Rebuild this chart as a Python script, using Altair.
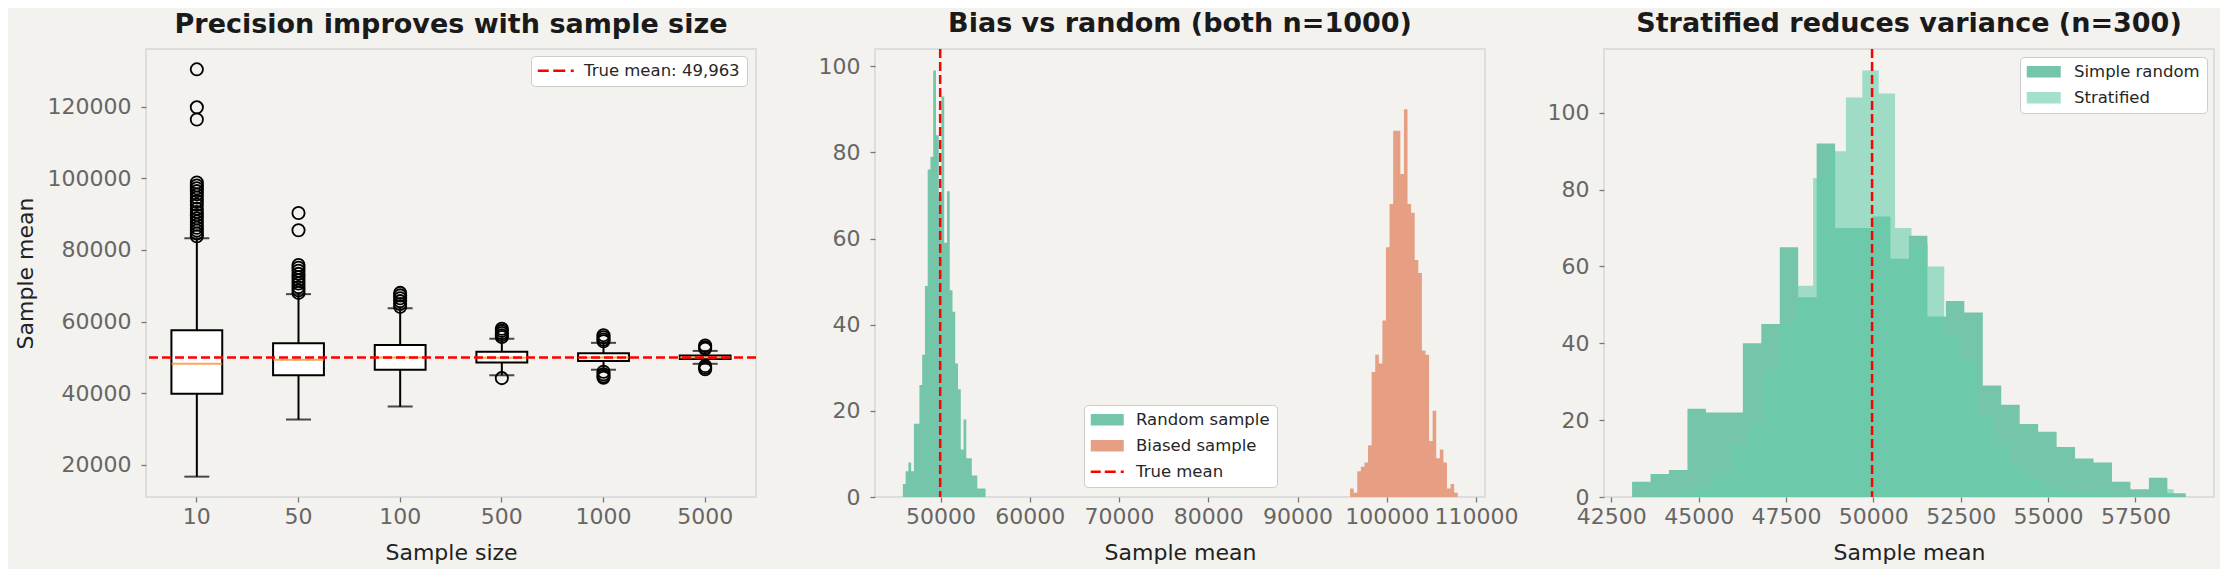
import altair as alt
import pandas as pd

FONT = "DejaVu Sans"
BG = "#f3f2ee"

# panel 1: box summaries of sample means
SIZES = ["10", "50", "100", "500", "1000", "5000"]
WHISK_LO = [16700, 32650, 36250, 45000, 46550, 48200]
Q1 = [39850, 45000, 46550, 48600, 49000, 49550]
MEDIAN = [48200, 49300, 49950, 49900, 49950, 49950]
Q3 = [57550, 53950, 53450, 51600, 51150, 50550]
WHISK_HI = [83250, 67650, 63700, 55200, 54050, 51800]
OUTLIERS = {
    "10": [130400, 119800, 116400, 98800, 98000, 97200, 96400, 95500, 94600, 93600,
           92600, 91500, 90600, 89700, 88800, 87900, 87000, 86200, 85400, 84600, 83800],
    "50": [90300, 85500, 75800, 75000, 74200, 73300, 72400, 71500, 70600, 69600, 68700, 68000],
    "100": [68000, 67300, 66500, 65700, 64900, 64100],
    "500": [58000, 57400, 56800, 56200, 55700, 44200],
    "1000": [56200, 55600, 55000, 54500, 46000, 45300, 44700, 44300],
    "5000": [53300, 52800, 52400, 47600, 47100, 46700],
}
TRUE_MEAN = 49963

# panel 2: histograms of sample means (30 bins each)
RANDOM_START, RANDOM_WIDTH = 45785, 308.8
RANDOM_COUNTS = [3, 6, 8, 6, 17, 17, 26, 33, 49, 76, 79, 99, 84, 70, 93,
                 59, 71, 48, 43, 31, 25, 11, 18, 9, 9, 5, 5, 2, 2, 2]
BIASED_START, BIASED_WIDTH = 95886, 402.1
BIASED_COUNTS = [2, 1, 6, 7, 8, 12, 29, 33, 31, 41, 58, 68, 85, 85, 75,
                 90, 68, 66, 55, 52, 34, 33, 13, 20, 9, 11, 8, 2, 3, 1]

# panel 3
SIMPLE_START, SIMPLE_WIDTH = 43094, 528.3
SIMPLE_COUNTS = [4, 6, 7, 23, 22, 22, 40, 45, 65, 52, 92, 70, 70, 73, 62,
                 68, 47, 51, 48, 29, 24, 19, 17, 13, 10, 9, 4, 2, 5, 1]
STRAT_START, STRAT_WIDTH = 44523, 469.1
STRAT_COUNTS = [1, 3, 6, 14, 19, 33, 45, 55, 83, 90, 104, 111, 105, 70, 66,
                60, 42, 36, 21, 14, 8, 5, 3, 2, 1, 1, 0, 0, 0, 2]

GREEN = "#75c5aa"
ORANGE = "#e69f83"
STRAT = "#66cdaa"
STRAT_SWATCH = "#a3e1cc"
RED = "#ff0000"

# legend swatches: symbol size 256 -> 8px per path unit, drawn to the right
RECT_33 = "M-1,-0.72H3.125V0.72H-1Z"
RECT_34 = "M-1,-0.72H3.25V0.72H-1Z"
DASH_36 = ("M-1,-0.17H0.375V0.17H-1Z M0.94,-0.17H2.44V0.17H0.94Z "
           "M3.12,-0.17H3.5V0.17H3.12Z")
DASH_33 = ("M-1,-0.17H0.25V0.17H-1Z M0.75,-0.17H2.125V0.17H0.75Z "
           "M2.75,-0.17H3.125V0.17H2.75Z")

W, H = 610, 448


def hist_df(start, width, counts):
    edges = [start + i * width for i in range(len(counts) + 1)]
    return pd.DataFrame({"x": edges, "count": list(counts) + [counts[-1]]})


def legend_layer(key, entries, colors, shapes, lx, ly, label_offset):
    leg = alt.Legend(title=None, orient="none", legendX=lx, legendY=ly,
                     fillColor="white", strokeColor="#cccccc", cornerRadius=4,
                     padding=6.5, rowPadding=9, labelOffset=label_offset, labelLimit=400,
                     labelFont=FONT, labelFontSize=16.5, labelColor="#262626",
                     symbolSize=256, symbolStrokeWidth=0, symbolOpacity=1)
    df = pd.DataFrame({key: entries})
    return alt.Chart(df).mark_point(filled=True).encode(
        color=alt.Color(f"{key}:N", scale=alt.Scale(domain=entries, range=colors), legend=leg),
        shape=alt.Shape(f"{key}:N", scale=alt.Scale(domain=entries, range=shapes), legend=leg),
    ).transform_filter("false")


# ---------- panel 1
stats = pd.DataFrame({"size": SIZES, "lo": WHISK_LO, "q1": Q1, "med": MEDIAN,
                      "q3": Q3, "hi": WHISK_HI})
outl = pd.DataFrame([(s, v) for s in SIZES for v in OUTLIERS[s]], columns=["size", "value"])
mean_df = pd.DataFrame({"value": [TRUE_MEAN]})

x1 = alt.X("size:N", sort=SIZES, title="Sample size",
           scale=alt.Scale(domain=SIZES, paddingInner=0, paddingOuter=0),
           axis=alt.Axis(labelAngle=0))
y1_scale = alt.Scale(domain=[11020, 136080], nice=False, zero=False)
y1_axis = alt.Axis(values=[20000, 40000, 60000, 80000, 100000, 120000], format="d")


def y1(field):
    return alt.Y(f"{field}:Q", scale=y1_scale, axis=y1_axis, title="Sample mean")


base1 = alt.Chart(stats)
box = base1.mark_bar(width=alt.RelativeBandSize(0.5), fill="white", stroke="black",
                     strokeWidth=2).encode(x=x1, y=y1("q1"), y2="q3")
wl = base1.mark_rule(color="black", strokeWidth=2).encode(x=x1, y=y1("lo"), y2="q1")
wh = base1.mark_rule(color="black", strokeWidth=2).encode(x=x1, y=y1("q3"), y2="hi")
cl = base1.mark_tick(color="black", size=25, thickness=2).encode(x=x1, y=y1("lo"))
ch = base1.mark_tick(color="black", size=25, thickness=2).encode(x=x1, y=y1("hi"))
med = base1.mark_tick(color="#ff7f0e", size=51, thickness=2).encode(x=x1, y=y1("med"))
pts = alt.Chart(outl).mark_point(shape="circle", filled=False, color="black", size=150,
                                 strokeWidth=1.8, opacity=1).encode(x=x1, y=y1("value"))
rule1 = alt.Chart(mean_df).mark_rule(color=RED, strokeDash=[9, 4], strokeWidth=2.5).encode(
    y=y1("value"))
leg1 = legend_layer("e1", [f"True mean: {TRUE_MEAN:,}"], [RED], [DASH_36], 385, 7, 30)

p1 = alt.layer(box, wl, wh, cl, ch, med, pts, rule1, leg1).properties(
    width=W, height=H, title="Precision improves with sample size")

# ---------- panel 2
x2_scale = alt.Scale(domain=[42660, 111000], nice=False, zero=False)
x2_axis = alt.Axis(values=[50000, 60000, 70000, 80000, 90000, 100000, 110000], format="d")
y2_scale = alt.Scale(domain=[0, 104], nice=False)
y2_axis = alt.Axis(values=[0, 20, 40, 60, 80, 100])


def x2(field):
    return alt.X(f"{field}:Q", scale=x2_scale, axis=x2_axis, title="Sample mean")


def y2(field):
    return alt.Y(f"{field}:Q", scale=y2_scale, axis=y2_axis, title=None)


rand = alt.Chart(hist_df(RANDOM_START, RANDOM_WIDTH, RANDOM_COUNTS)).mark_area(
    interpolate="step-after", color=GREEN).encode(x=x2("x"), y=y2("count"))
bias = alt.Chart(hist_df(BIASED_START, BIASED_WIDTH, BIASED_COUNTS)).mark_area(
    interpolate="step-after", color=ORANGE).encode(x=x2("x"), y=y2("count"))
rule2 = alt.Chart(mean_df).mark_rule(color=RED, strokeDash=[9, 4], strokeWidth=2.5).encode(
    x=x2("value"))
leg2 = legend_layer("e2", ["Random sample", "Biased sample", "True mean"],
                    [GREEN, ORANGE, RED], [RECT_33, RECT_33, DASH_33], 209, 356, 29)

p2 = alt.layer(rand, bias, rule2, leg2).properties(
    width=W, height=H, title="Bias vs random (both n=1000)")

# ---------- panel 3
x3_scale = alt.Scale(domain=[42290, 59750], nice=False, zero=False)
x3_axis = alt.Axis(values=[42500, 45000, 47500, 50000, 52500, 55000, 57500], format="d")
y3_scale = alt.Scale(domain=[0, 116.6], nice=False)
y3_axis = alt.Axis(values=[0, 20, 40, 60, 80, 100])


def x3(field):
    return alt.X(f"{field}:Q", scale=x3_scale, axis=x3_axis, title="Sample mean")


def y3(field):
    return alt.Y(f"{field}:Q", scale=y3_scale, axis=y3_axis, title=None)


simple = alt.Chart(hist_df(SIMPLE_START, SIMPLE_WIDTH, SIMPLE_COUNTS)).mark_area(
    interpolate="step-after", color=GREEN).encode(x=x3("x"), y=y3("count"))
strat = alt.Chart(hist_df(STRAT_START, STRAT_WIDTH, STRAT_COUNTS)).mark_area(
    interpolate="step-after", color=STRAT, opacity=0.6).encode(x=x3("x"), y=y3("count"))
rule3 = alt.Chart(mean_df).mark_rule(color=RED, strokeDash=[9, 4], strokeWidth=2.5).encode(
    x=x3("value"))
leg3 = legend_layer("e3", ["Simple random", "Stratified"], [GREEN, STRAT_SWATCH],
                    [RECT_34, RECT_34], 416, 8, 31)

p3 = alt.layer(simple, strat, rule3, leg3).properties(
    width=W, height=H, title="Stratified reduces variance (n=300)")

chart = alt.hconcat(p1, p2, p3, spacing=119, bounds="flush").resolve_scale(
    color="independent", shape="independent"
).properties(
    padding={"left": 5, "right": 5, "top": 0, "bottom": 5}
).configure(
    background=BG, font=FONT
).configure_view(
    fill="white", stroke="#dddddd", strokeWidth=2
).configure_axis(
    domain=False, grid=False, labelFont=FONT, labelFontSize=22, labelColor="#666666",
    titleFont=FONT, titleFontSize=22, titleFontWeight="normal", titleColor="#222222",
    tickColor="#777777", tickSize=5, tickWidth=1.3, labelPadding=10, titlePadding=10
).configure_axisX(
    labelPadding=4, titlePadding=15
).configure_title(
    font=FONT, fontSize=27, fontWeight="bold", color="#1a1a1a", anchor="middle",
    frame="group", offset=10, baseline="alphabetic"
)

chart.save("out.html", embed_options={"renderer": "svg", "actions": False})
